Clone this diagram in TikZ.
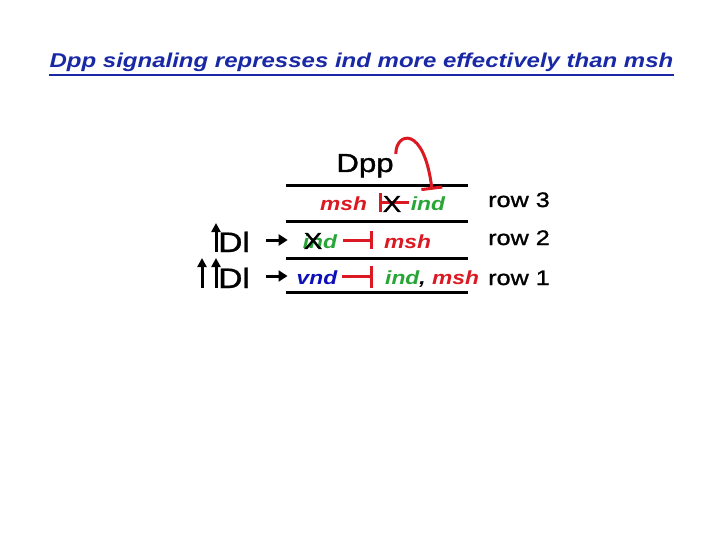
\documentclass[tikz,border=0pt]{standalone}
\usepackage{fontspec}
\setmainfont{Liberation Sans}[FakeStretch=1.2, UprightFeatures={FakeBold=1.2}]
\usetikzlibrary{arrows.meta,calc}
\definecolor{titleblue}{RGB}{25,40,165}
\definecolor{genered}{RGB}{220,25,35}
\definecolor{genegreen}{RGB}{40,165,55}
\definecolor{geneblue}{RGB}{15,15,185}

\begin{document}
\begin{tikzpicture}[x=1pt,y=-1pt,
    gene/.style={inner sep=0pt, text height=16pt, text depth=0pt, font=\fontsize{19}{22}\selectfont\bfseries\itshape},
    rowlabel/.style={inner sep=0pt, anchor=base west, font=\fontsize{21}{24}\selectfont},
    dlabel/.style={inner sep=0pt, anchor=base west, text height=24pt, text depth=0pt, font=\fontsize{28}{32}\selectfont},
    crossout/.style={inner sep=0pt, font=\fontsize{23}{24}\selectfont},
    inhib/.style={genered, line width=3pt},
    act/.style={line width=3pt, -{Triangle[length=9pt,width=11pt]}},
    uparrow/.style={line width=3pt, -{Triangle[length=9pt,width=9pt]}},
    band/.style={line width=3pt}]
    \useasboundingbox (0,0) rectangle (720,540);
    \node[titleblue, inner sep=0pt, anchor=base, font=\fontsize{20}{24}\selectfont\bfseries\itshape] (title) at (361.5,68) {Dpp signaling represses ind more effectively than msh};
    \draw[titleblue, line width=1.8pt] ($(title.base west)+(0,7)$) -- ($(title.base east)+(0,7)$);
    \node[inner sep=0pt, anchor=base, font=\fontsize{26}{30}\selectfont] (dpp) at (365,172) {Dpp};
    \foreach \y in {186,222,258,292}
        \draw[band] (286,\y) -- (468,\y);
    \node[gene, genered] (msh3) at (343.5,203) {msh};
    \node[gene, genegreen] (ind3) at (428,203) {ind};
    \node[gene, genegreen] (ind2) at (320,240) {ind};
    \node[gene, genered] (msh2) at (407.5,240) {msh};
    \node[gene, geneblue] (vnd1) at (317,276.5) {vnd};
    \node[gene, anchor=west] (indmsh1) at (385,276.5) {\textcolor{genegreen}{ind}, \textcolor{genered}{msh}};
    \node[rowlabel] (row3) at (488,207) {row 3};
    \node[rowlabel] (row2) at (488,245) {row 2};
    \node[rowlabel] (row1) at (488,285) {row 1};
    \node[dlabel] (dl2) at (218,252) {Dl};
    \node[dlabel] (dl1) at (218,288) {Dl};
    \draw[uparrow] ($(dl2.base west)+(-2,0)$) -- ++(0,-29);
    \foreach \dx in {-2,-16}
        \draw[uparrow] ($(dl1.base west)+(\dx,0)$) -- ++(0,-30);
    \draw[act, shorten <=16pt, shorten >=15pt] (dl2.east) -- (dl2.east -| ind2.west);
    \draw[act, shorten <=16pt, shorten >=9pt] (dl1.east) -- (dl1.east -| vnd1.west);
    \draw[inhib, -{Bar[width=19pt]}, shorten <=2pt, shorten >=12pt] (ind3.west) -- (msh3.east);
    \draw[inhib, -{Bar[width=18pt]}, shorten <=6pt, shorten >=11pt] (ind2.east) -- (msh2.west);
    \draw[inhib, -{Bar[width=22pt]}, shorten <=5pt, shorten >=12pt] (vnd1.east) -- (indmsh1.west);
    \draw[inhib, -{Bar[width=21pt]}] ($(dpp.north east)+(2,0)$) .. controls +(0,-22) and +(-8,-65) .. ($(ind3.north)+(4,-5)$);
    \node[crossout] (x3) at (392,204) {X};
    \node[crossout] (x2) at (313,241) {X};
\end{tikzpicture}
\end{document}
